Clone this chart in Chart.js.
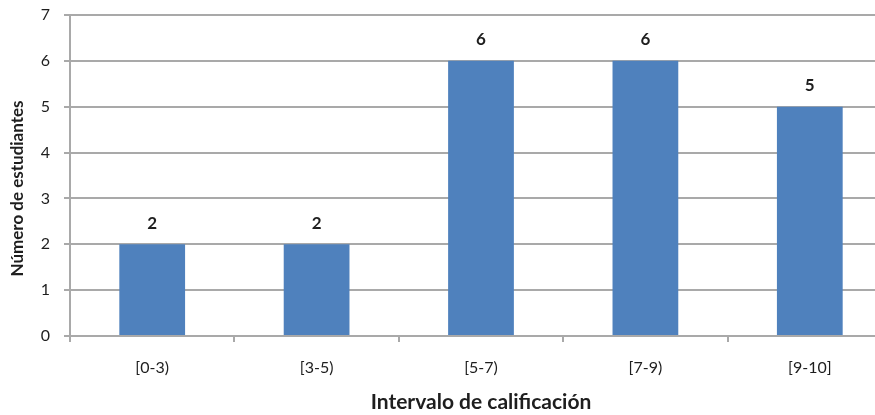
<!DOCTYPE html>
<html>
<head>
<meta charset="utf-8">
<script src="https://cdn.jsdelivr.net/npm/chart.js@4.4.1/dist/chart.umd.min.js"></script>
<style>
  html, body { margin: 0; padding: 0; background: #fff; overflow: hidden; }
  #wrap { width: 892px; height: 415px; position: relative; }
</style>
</head>
<body>
<div id="wrap"><canvas id="c"></canvas></div>
<script>
const categories = ['[0-3)', '[3-5)', '[5-7)', '[7-9)', '[9-10]'];
const students = [2, 2, 6, 6, 5];
const yTicks = [0, 1, 2, 3, 4, 5, 6, 7];
const xTitle = 'Intervalo de calificación';
const yTitle = 'Número de estudiantes';

const FONT = 'Lato, "Open Sans", sans-serif';
const GRID = '#a9a9a9';
const TEXT = '#1e1e1e';

// writes each bar's value above it
const valueLabels = {
  id: 'valueLabels',
  afterDatasetsDraw(chart) {
    const ctx = chart.ctx;
    const meta = chart.getDatasetMeta(0);
    ctx.save();
    ctx.font = 'bold 17px ' + FONT;
    ctx.fillStyle = TEXT;
    ctx.textAlign = 'center';
    ctx.textBaseline = 'middle';
    meta.data.forEach((bar, i) => {
      ctx.fillText(String(students[i]), bar.x, bar.y - 21);
    });
    ctx.restore();
  }
};

// vertical axis title, sitting a little below the middle of the plot
const yAxisTitle = {
  id: 'yAxisTitle',
  afterDraw(chart) {
    const ctx = chart.ctx;
    const area = chart.chartArea;
    ctx.save();
    ctx.translate(18, (area.top + area.bottom) / 2 + 13);
    ctx.rotate(-Math.PI / 2);
    ctx.font = 'bold 17px ' + FONT;
    ctx.fillStyle = TEXT;
    ctx.textAlign = 'center';
    ctx.textBaseline = 'middle';
    ctx.fillText(yTitle, 0, 0);
    ctx.restore();
  }
};

new Chart(document.getElementById('c'), {
  type: 'bar',
  data: {
    labels: categories,
    datasets: [{
      data: students,
      backgroundColor: '#4F81BD',
      borderWidth: 0,
      barPercentage: 0.4,
      categoryPercentage: 1
    }]
  },
  options: {
    responsive: true,
    maintainAspectRatio: false,
    animation: false,
    layout: { padding: 0 },
    plugins: { legend: { display: false }, tooltip: { enabled: false } },
    scales: {
      x: {
        grid: { drawOnChartArea: false, drawTicks: true, tickLength: 6, color: GRID, lineWidth: 2 },
        border: { display: true, color: GRID, width: 2 },
        ticks: { color: TEXT, font: { family: FONT, size: 16 }, padding: 16 },
        title: {
          display: true,
          text: xTitle,
          color: TEXT,
          font: { family: FONT, size: 21, weight: 'bold' },
          padding: { top: 7, bottom: 0 }
        },
        afterFit(s) { s.height = 79; }
      },
      y: {
        min: 0,
        max: 7,
        afterBuildTicks(s) { s.ticks = yTicks.map(v => ({ value: v })); },
        grid: { color: GRID, lineWidth: 2, tickLength: 6 },
        border: { display: true, color: GRID, width: 2 },
        ticks: { color: TEXT, font: { family: FONT, size: 16 }, padding: 14 },
        title: { display: false },
        afterFit(s) { s.width = 70; s.paddingTop = 15; s.paddingBottom = 0; }
      }
    }
  },
  plugins: [valueLabels, yAxisTitle]
});
</script>
</body>
</html>
